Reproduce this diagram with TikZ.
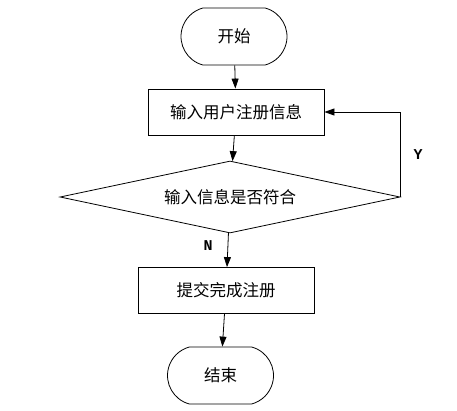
\documentclass[tikz,border=0pt]{standalone}
\usepackage{fontspec}
\setmainfont{Noto Sans CJK SC}
\newfontfamily\latinfont{Liberation Mono}
\usetikzlibrary{arrows.meta,shapes.geometric,shapes.misc}

\begin{document}
\begin{tikzpicture}[x=1pt,y=-1pt,
  line width=0.8pt,
  arr/.style={-{Triangle[length=10pt,width=7pt]}},
  term/.style={draw, rounded rectangle, rounded rectangle arc length=150,
    minimum width=106pt, minimum height=57pt, inner sep=0pt, font=\fontsize{16.5}{18}\selectfont},
  proc/.style={draw, rectangle, minimum width=176pt, minimum height=46pt,
    inner sep=0pt, font=\fontsize{16.5}{18}\selectfont},
  dec/.style={draw, diamond, aspect=4.7, minimum width=340pt, minimum height=72pt,
    inner sep=0pt, font=\fontsize{16.5}{18}\selectfont},
  yn/.style={font=\latinfont\bfseries\fontsize{15}{17}\selectfont}]
\useasboundingbox (0,0) rectangle (457,410);
\node[term] (start) at (234,36.5) {开始};
\node[proc] (input) at (236,112) {输入用户注册信息};
\node[dec] (check) at (230,197) {输入信息是否符合};
\node[proc] (submit) at (226,290.5) {提交完成注册};
\node[term] (stop) at (220.5,375.5) {结束};
\draw[arr] (start) -- (input);
\draw[arr] (input) -- (check);
\draw[arr] (check) -- (submit);
\draw[arr] (submit) -- (stop);
\draw[arr] (check.east) |- (input.east);
\node[yn] (yes) at (418,155) {Y};
\node[yn] (no) at (208,246) {N};
\end{tikzpicture}
\end{document}
